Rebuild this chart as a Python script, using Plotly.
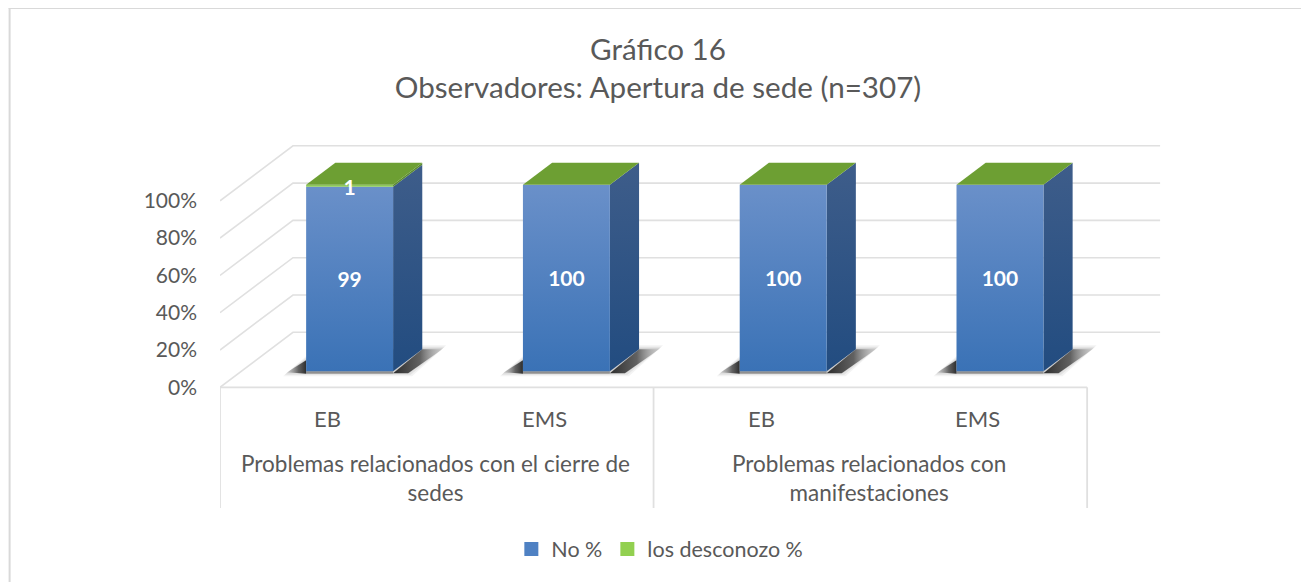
import plotly.graph_objects as go

# ---- data ----
categories = ["EB", "EMS", "EB", "EMS"]
groups = ["Problemas relacionados con el cierre de<br>sedes", "Problemas relacionados con<br>manifestaciones"]
no_pct = [99, 100, 100, 100]
desconozco_pct = [1, 0, 0, 0]
tick_vals = [0, 20, 40, 60, 80, 100]
tick_text = ["0%", "20%", "40%", "60%", "80%", "100%"]
series_names = ["No %", "los desconozo %"]

# ---- pseudo-3D projection parameters, in axis units ----
OFF = 8            # page offset of the figure
W, H = 1301, 574
PX_X = 216.9       # px per category
PX_Y = 1.865       # px per percent
L, R, T, B = 219.5, 1163, 145, 508  # plot area in window px
FLOOR = 387.3
X0 = -0.5
Y0 = -(B - FLOOR) / PX_Y
DX = 73 / PX_X     # full floor depth
DY = 55 / PX_Y
D0, D1 = 16 / 55, 38 / 55   # bar depth span
BW = 87 / PX_X
GRID = "#e0e0e0"
U = 1 / PX_X       # one pixel in x units
V = 1 / PX_Y       # one pixel in y units


def proj(x, y, d):
    return x + d * DX, y + d * DY


def poly(pts, **kw):
    xs = [p[0] for p in pts] + [pts[0][0]]
    ys = [p[1] for p in pts] + [pts[0][1]]
    return go.Scatter(x=xs, y=ys, mode="lines", fill="toself", line=dict(width=0),
                      hoverinfo="skip", showlegend=False, **kw)


def vgrad(bottom, top, lo, hi):
    return dict(type="vertical", start=lo, stop=hi, colorscale=[[0, bottom], [1, top]])


traces = []
# grid: wall plus side wall
for v in tick_vals:
    a = proj(-0.5, v, 0)
    b = proj(-0.5, v, 1)
    c = proj(3.5, v, 1)
    traces.append(go.Scatter(x=[a[0], b[0], c[0]], y=[a[1], b[1], c[1]], mode="lines",
                             line=dict(color=GRID, width=1.6), hoverinfo="skip", showlegend=False))

# bars
for i, (n, k) in enumerate(zip(no_pct, desconozco_pct)):
    xl, xr = i - BW / 2, i + BW / 2
    total = n + k
    sl = proj(xl, 0, D0)
    sr = proj(xr, 0, D0)
    sb = proj(xr, 0, D1)
    # soft shadow: nested, shrinking layers that fade towards the outer edge
    for grow, alpha in ((4, 0.07), (2.5, 0.10), (1, 0.14)):
        traces.append(poly([(sl[0] - (19 + grow) * U, sl[1] - (1 + grow) * V), (sl[0], sl[1] + (11 + grow) * V),
                            (sb[0], sb[1] + grow * V), (sb[0] + (20 + grow) * U, sb[1] + grow * V),
                            (sr[0] + (15 + grow) * U, sr[1] - (1 + grow) * V)],
                           fillcolor=f"rgba(90,90,90,{alpha})"))
    traces.append(poly([(sl[0] - 19 * U, sl[1] - 1 * V), (sl[0], sl[1] + 11 * V), (sl[0], sl[1] - 2.5 * V)],
                       fillgradient=dict(type="horizontal", start=sl[0] - 19 * U, stop=sl[0],
                                         colorscale=[[0, "rgba(120,120,120,0.1)"], [0.6, "rgba(70,70,70,0.8)"], [1, "rgba(45,45,45,1)"]])))
    traces.append(poly([(sr[0], sr[1] - 2 * V), sb, (sb[0] + 20 * U, sb[1]), (sr[0] + 15 * U, sr[1] - 2 * V)],
                       fillgradient=dict(type="horizontal", start=sr[0], stop=sb[0] + 20 * U,
                                         colorscale=[[0, "rgba(45,45,45,1)"], [0.55, "rgba(85,85,85,0.9)"], [1, "rgba(160,160,160,0.15)"]])))
    # front under-edge shadow
    traces.append(poly([(sl[0], sl[1]), (sr[0], sr[1]), (sr[0], sr[1] - 2.5 * V), (sl[0], sl[1] - 2.5 * V)],
                       fillcolor="rgba(90,90,90,0.55)"))
    # side blue
    traces.append(poly([proj(xr, 0, D0), proj(xr, 0, D1), proj(xr, n, D1), proj(xr, n, D0)],
                       fillgradient=vgrad("#224c80", "#3e5d8a", proj(0, 0, D0)[1], proj(0, n, D1)[1])))
    # front blue
    traces.append(poly([proj(xl, 0, D0), proj(xr, 0, D0), proj(xr, n, D0), proj(xl, n, D0)],
                       fillgradient=vgrad("#3a72b6", "#6a90c9", proj(0, 0, D0)[1], proj(0, n, D0)[1])))
    if k > 0:
        traces.append(poly([proj(xl, n, D0), proj(xr, n, D0), proj(xr, total, D0), proj(xl, total, D0)],
                           fillcolor="#8cc85a"))
        traces.append(poly([proj(xr, n, D0), proj(xr, n, D1), proj(xr, total, D1), proj(xr, total, D0)],
                           fillcolor="#5a8a30"))
    # top green
    traces.append(poly([proj(xl, total, D0), proj(xr, total, D0), proj(xr, total, D1), proj(xl, total, D1)],
                       fillcolor="#6d9f33"))

# data labels
lab_x, lab_y, lab_t = [], [], []
for i, (n, k) in enumerate(zip(no_pct, desconozco_pct)):
    p = proj(i, n / 2, D0)
    lab_x.append(p[0]); lab_y.append(p[1] - 1.6); lab_t.append(str(n))
    if k > 0:
        p = proj(i, n + k / 2, D0)
        lab_x.append(p[0]); lab_y.append(p[1] - 2.2); lab_t.append(str(k))
traces.append(go.Scatter(x=lab_x, y=lab_y, text=lab_t, mode="text", showlegend=False, hoverinfo="skip",
                         textposition="middle center",
                         textfont=dict(family="Lato", size=21, color="white", weight="bold")))

# axis furniture: floor front and dividers
traces.append(go.Scatter(x=[-0.5, 3.5], y=[0, 0], mode="lines", line=dict(color=GRID, width=1.8),
                         hoverinfo="skip", showlegend=False))
for xv in (-0.5, 1.5, 3.5):
    traces.append(go.Scatter(x=[xv, xv], y=[0, Y0], mode="lines", line=dict(color=GRID, width=1.8),
                             hoverinfo="skip", showlegend=False))

# legend entries
for nm, col in zip(series_names, ["#4f81c3", "#92d050"]):
    traces.append(go.Scatter(x=[None], y=[None], mode="markers", name=nm,
                             marker=dict(symbol="square", size=14, color=col)))

fig = go.Figure(traces)
ann = []
for i, c in enumerate(categories):
    ann.append(dict(x=i - 0.004, y=-(418 - FLOOR) / PX_Y, text=c, showarrow=False, xanchor="center", yanchor="middle",
                    font=dict(family="Lato", size=22, color="#595959")))
for j, g in enumerate(groups):
    ann.append(dict(x=0.5 + 2 * j - 0.007, y=-(478 - FLOOR) / PX_Y, text=g, showarrow=False, xanchor="center", yanchor="middle",
                    font=dict(family="Lato", size=22.5, color="#595959")))


def px_x(p):
    return (p - L) / (R - L)


def px_y(p):
    return 1 - (p - T) / (B - T)


border = []
for x0, y0, x1, y1, col, wd in ((9, 8, 9, 582, "#d9d9d9", 2), (8, 8, 1309, 8, "#d9d9d9", 2), (1308, 8, 1308, 582, "#f0f0f0", 1)):
    border.append(dict(type="line", xref="paper", yref="paper", x0=px_x(x0), x1=px_x(x1), y0=px_y(y0), y1=px_y(y1),
                       line=dict(color=col, width=wd)))

fig.update_layout(
    width=W, height=H, margin=dict(l=L - OFF, r=W - (R - OFF), t=T - OFF, b=H - (B - OFF)),
    paper_bgcolor="white", plot_bgcolor="white",
    title=dict(text="Gráfico 16<br>Observadores: Apertura de sede (n=307)", x=(658 - OFF) / W, xanchor="center",
               y=1 - (60 - OFF) / H, yanchor="middle",
               font=dict(family="Lato", size=29.6, color="#595959")),
    xaxis=dict(range=[X0, X0 + (R - L) / PX_X], visible=False),
    yaxis=dict(range=[Y0, Y0 + (B - T) / PX_Y], tickmode="array", tickvals=tick_vals, ticktext=tick_text,
               showgrid=False, zeroline=False, showline=False, ticks="", ticklabelstandoff=22,
               tickfont=dict(family="Lato", size=21, color="#595959")),
    legend=dict(orientation="h", x=px_x(511), xanchor="left", y=px_y(549), yanchor="middle",
                font=dict(family="Lato", size=21.5, color="#595959"), itemclick=False, itemdoubleclick=False),
    annotations=ann,
    shapes=border,
)
fig.write_html("out.html", post_script="document.documentElement.style.overflow='hidden';")
